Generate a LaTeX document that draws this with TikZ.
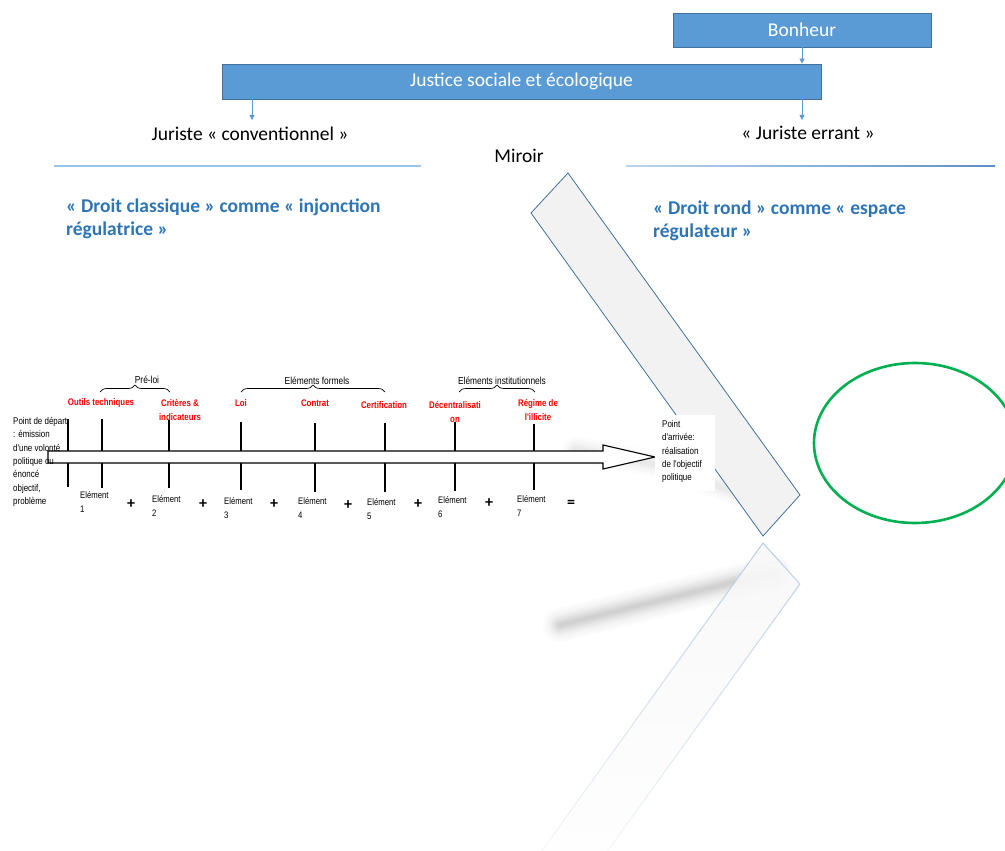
\documentclass[tikz,border=0pt]{standalone}
\usepackage{fontspec}
\setmainfont{Carlito}
\newfontfamily\narrow[FakeStretch=0.82]{Liberation Sans}
\usetikzlibrary{arrows.meta,decorations.pathreplacing,fadings}
\definecolor{boxblue}{HTML}{5B9BD5}
\definecolor{boxborder}{HTML}{41719C}
\definecolor{headblue}{HTML}{2E75B6}
\definecolor{lineblue}{HTML}{9DC3E6}
\definecolor{linedark}{HTML}{5B8FC8}
\definecolor{mirrorfill}{HTML}{F2F2F2}
\definecolor{mirrorborder}{HTML}{41719C}
\definecolor{refborder}{HTML}{B8CCE4}
\definecolor{ringgreen}{HTML}{00B050}
\definecolor{labred}{HTML}{FF0000}
\tikzset{
  bluebox/.style={draw=boxborder, line width=0.8pt, fill=boxblue, text=white, font=\fontsize{19.5}{22}\selectfont, inner sep=0pt},
  bluearrow/.style={draw=boxblue, line width=0.8pt, -{Triangle[length=5pt,width=5pt]}},
  toptext/.style={font=\fontsize{19.5}{22}\selectfont, inner sep=0pt},
  heading/.style={font=\fontsize{19.5}{23}\selectfont\bfseries, text=headblue, align=left, inner sep=0pt, anchor=north west},
  redlab/.style={font=\narrow\bfseries\fontsize{9.6}{13.5}\selectfont, text=labred, align=center, inner sep=0pt},
  grouplab/.style={font=\narrow\fontsize{10.2}{12}\selectfont, inner sep=0pt},
  elemlab/.style={font=\narrow\fontsize{9.4}{14.5}\selectfont, align=left, inner sep=0pt, anchor=north west},
  sidetext/.style={font=\narrow\fontsize{9.7}{13.4}\selectfont, align=left, inner sep=0pt, anchor=north west},
  opsign/.style={font=\fontsize{16}{16}\selectfont\bfseries, inner sep=0pt},
  tick/.style={line width=1.8pt},
  grpbrace/.style={decorate, decoration={brace, amplitude=7pt}, line width=0.7pt},
}
\begin{document}
\begin{tikzpicture}[x=1pt,y=-1pt]
\useasboundingbox (0,0) rectangle (1005,851);

% ---- top boxes
\node[bluebox, minimum width=258pt, minimum height=34pt] (bonheur) at (802,30) {Bonheur};
\node[bluebox, minimum width=599pt, minimum height=35pt] (justice) at (521.5,81.5) {Justice sociale et écologique};
\node[toptext] (jconv) at (250,134) {Juriste « conventionnel »};
\node[toptext] (jerr) at (808,133) {« Juriste errant »};
\node[toptext] (miroir) at (519,156) {Miroir};
\coordinate (jconvtop) at (252,120);
\coordinate (jerrtop) at (802,120);
\draw[bluearrow] (bonheur.south) -- (bonheur.south |- justice.north);
\draw[bluearrow] (justice.south -| jconvtop) -- (jconvtop);
\draw[bluearrow] (justice.south -| jerrtop) -- (jerrtop);

% ---- separators
\coordinate (sepLa) at (54,166);
\coordinate (sepLb) at (421,166);
\draw[lineblue, line width=1.2pt] (sepLa) -- (sepLb);
\shade[left color=lineblue!70, right color=linedark] (626,165.4) rectangle (995,166.8);

% ---- headings
\node[heading] (hleft) at (66,199) {« Droit classique » comme « injonction\\régulatrice »};
\node[heading] (hright) at (653,201) {« Droit rond » comme « espace\\régulateur »};

% ---- shadows (soft)
\foreach \w/\o in {34/0.015,28/0.02,22/0.025,17/0.03,12/0.035,8/0.035,4/0.03}{
  \draw[black, line width=\w pt, line cap=round, opacity=\o] (560,625) -- (775,572);
}
\foreach \w/\o in {26/0.012,20/0.015,14/0.018,9/0.02,5/0.02}{
  \draw[black, line width=\w pt, line cap=round, opacity=\o] (575,449) -- (660,465) -- (765,503);
}

% ---- mirror and its reflection
\draw[fill=mirrorfill, draw=mirrorborder, line width=0.8pt] (568,173) -- (800,495) -- (763,536) -- (531,213) -- cycle;
\draw[path fading=south, fill=mirrorfill!50, draw=refborder, line width=1pt] (763,543) -- (800,584) -- (568,906) -- (531,866) -- cycle;

% ---- green ring
\draw[ringgreen, line width=2.6pt] (915,443) ellipse [x radius=101, y radius=80];

% ---- timeline ticks
\draw[tick] (68,419) -- (68,487);
\foreach \x/\a/\b in {102/419/488, 169/420/488, 241/422/490, 315/423/492, 385/423/492, 455/422/491, 534/424/490}{
  \draw[tick] (\x,\a) -- (\x,\b);
}
% ---- main arrow
\draw[fill=white, line width=1.1pt, line join=miter] (48,451) -- (603,451) -- (603,445) -- (655,457) -- (603,469) -- (603,463) -- (48,463) -- cycle;

% ---- groups
\draw[grpbrace] (100,392) -- (170,392);
\draw[grpbrace] (241,392) -- (385,392);
\draw[grpbrace] (459,392) -- (535,392);
\node[grouplab] (preloi) at (147,380) {Pré-loi};
\node[grouplab] (formels) at (317,381) {Eléments formels};
\node[grouplab] (instit) at (502,381) {Eléments institutionnels};

% ---- red labels
\node[redlab] (outils) at (101,403) {Outils techniques};
\node[redlab] (criteres) at (180,410) {Critères \&\\indicateurs};
\node[redlab] (loi) at (241,403) {Loi};
\node[redlab] (contrat) at (315,403) {Contrat};
\node[redlab] (certif) at (384,405) {Certification};
\node[redlab] (decent) at (455,412) {Décentralisati\\on};
\node[redlab] (regime) at (538,410) {Régime de\\l'illicite};

% ---- start text
\node[sidetext] (depart) at (13,417) {Point de départ\\: émission\\d'une volonté\\politique ou\\énoncé\\objectif,\\problème};

% ---- element labels
\node[elemlab] (e1) at (80,491) {Elément\\1};
\node[elemlab] (e2) at (152,495) {Elément\\2};
\node[elemlab] (e3) at (224,497) {Elément\\3};
\node[elemlab] (e4) at (298,497) {Elément\\4};
\node[elemlab] (e5) at (367,498) {Elément\\5};
\node[elemlab] (e6) at (438,496) {Elément\\6};
\node[elemlab] (e7) at (517,495) {Elément\\7};
\node[opsign] (p1) at (131,504) {+};
\node[opsign] (p2) at (203,504) {+};
\node[opsign] (p3) at (274,504) {+};
\node[opsign] (p4) at (348,505) {+};
\node[opsign] (p5) at (418,504) {+};
\node[opsign] (p6) at (489,503) {+};
\node[opsign] (eq) at (571,504) {=};

% ---- arrival box
\node[fill=white, minimum width=60pt, minimum height=76pt, inner sep=0pt] (arrbox) at (685,453) {};
\node[sidetext] (arrivee) at (662,420) {Point\\d'arrivée:\\réalisation\\de l'objectif\\politique};
\end{tikzpicture}
\end{document}
